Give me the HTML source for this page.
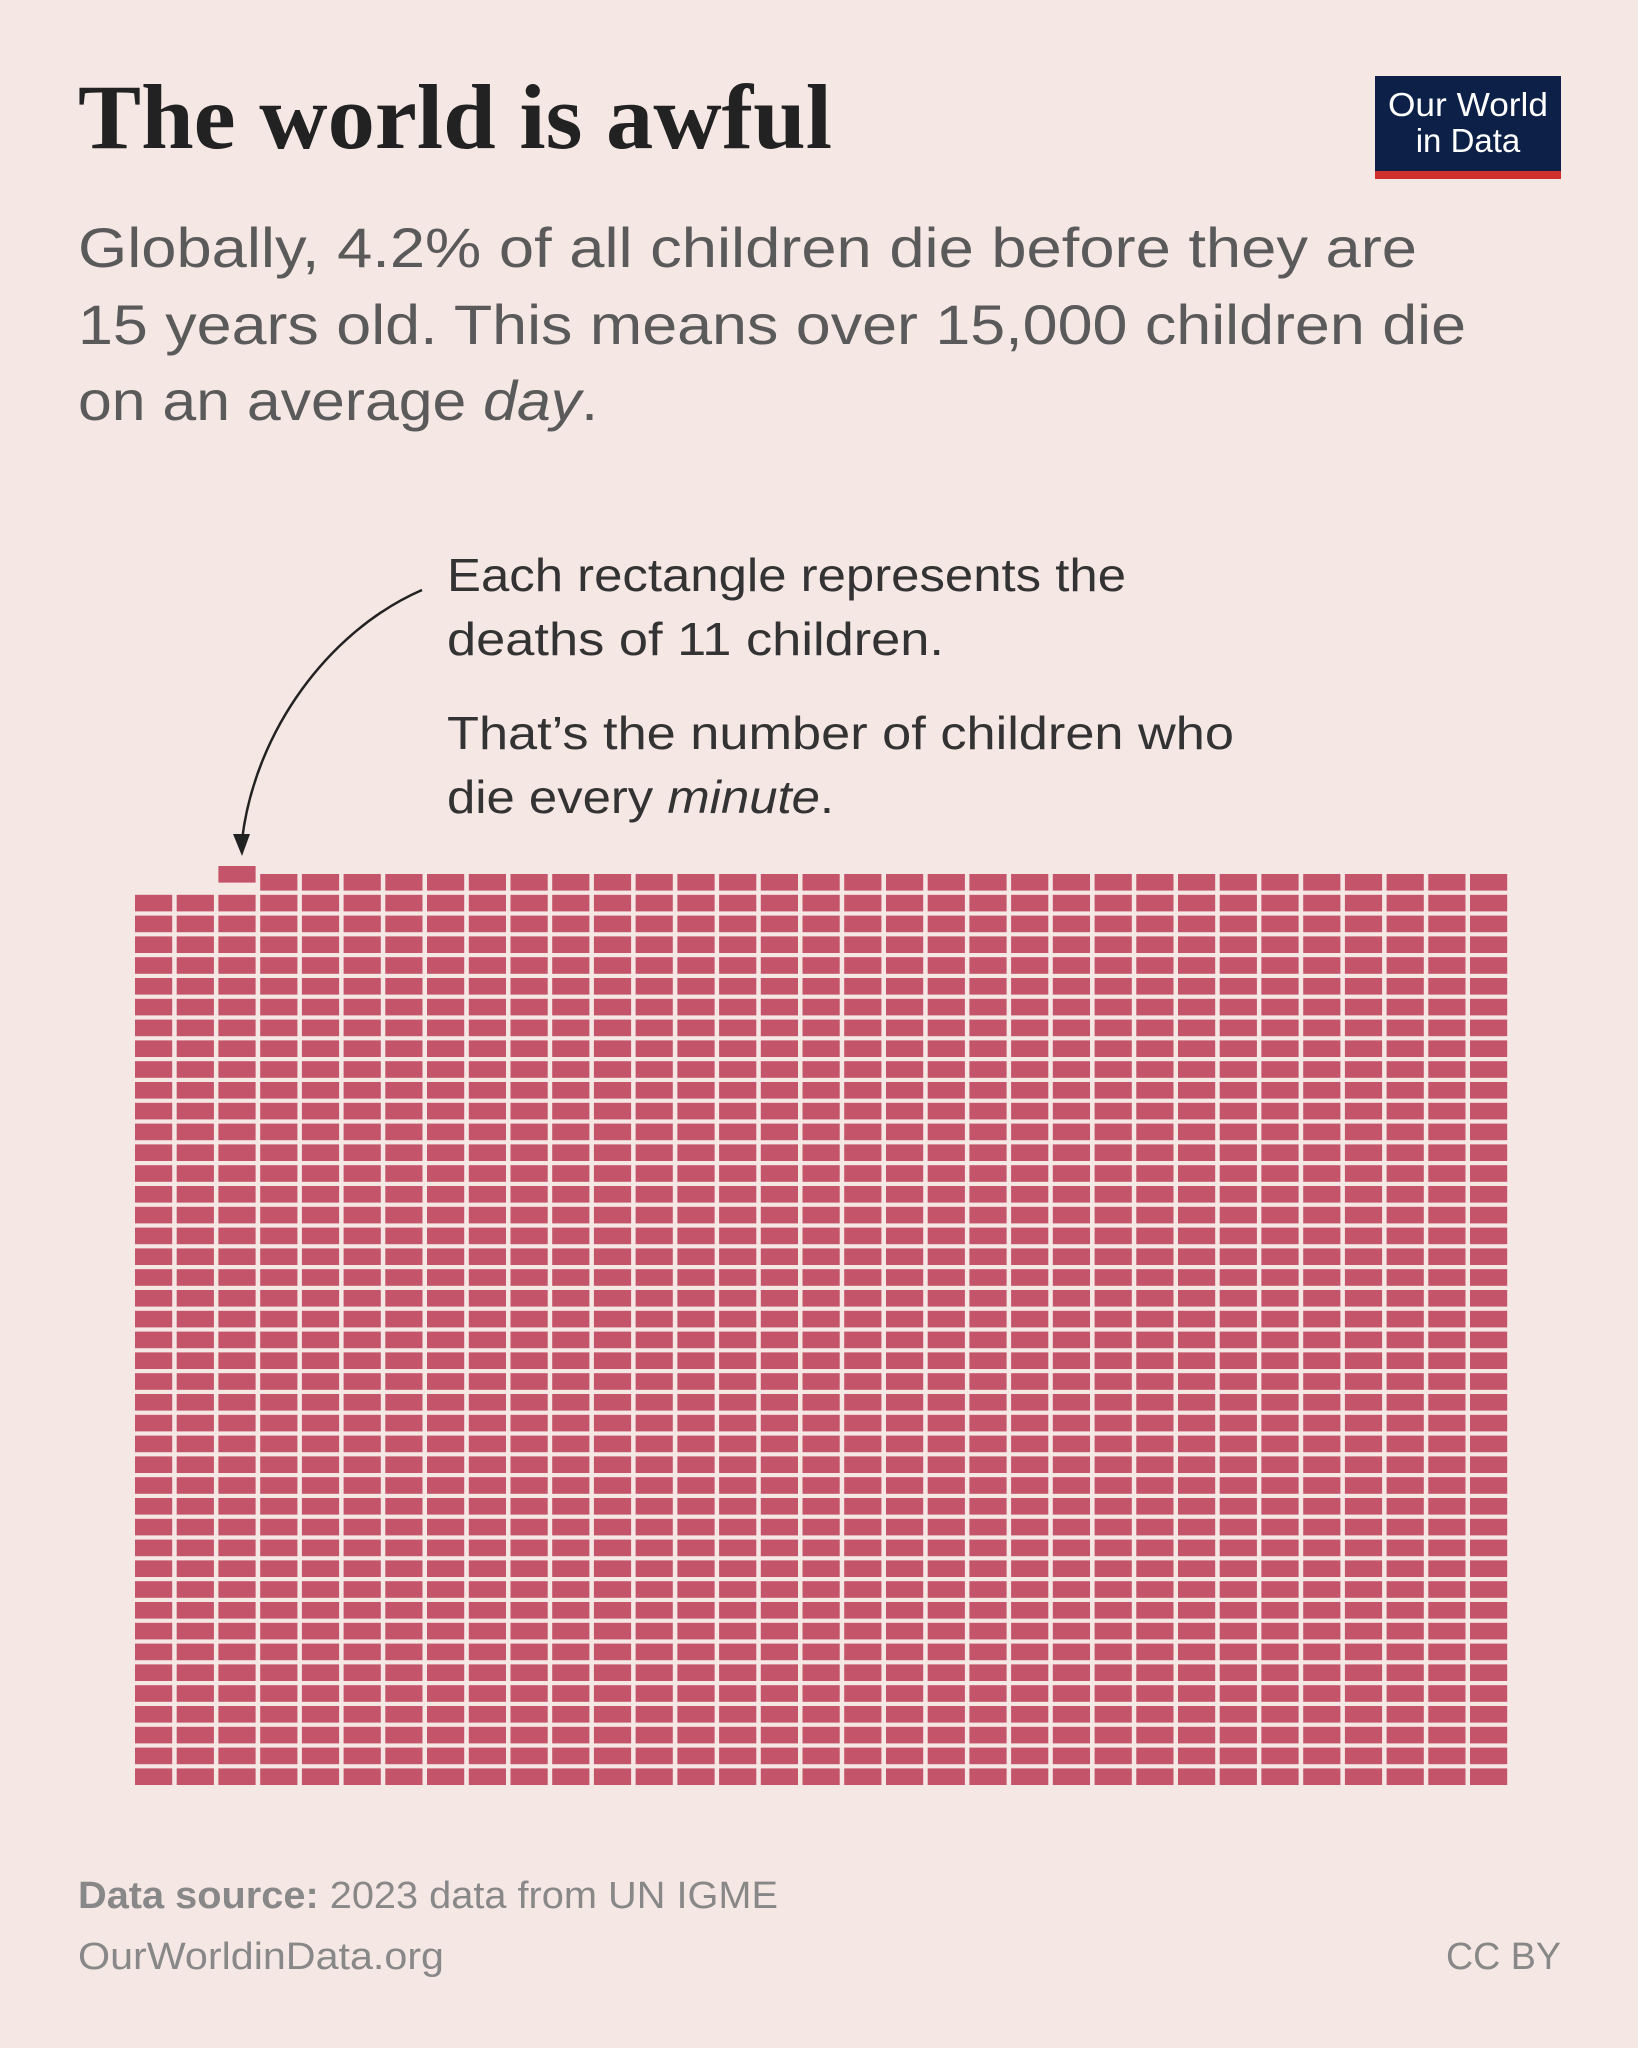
<!DOCTYPE html>
<html><head><meta charset="utf-8"><style>html,body{margin:0;padding:0;background:#f5e7e4}svg{display:block}</style></head>
<body>
<svg width="1638" height="2048" viewBox="0 0 1638 2048" xmlns="http://www.w3.org/2000/svg">
<rect width="1638" height="2048" fill="#f5e7e4"/>
<text x="78" y="148" font-family="Liberation Serif, serif" font-weight="bold" font-size="92" fill="#222" textLength="754" lengthAdjust="spacingAndGlyphs">The world is awful</text>
<rect x="1375" y="76" width="186" height="96" fill="#0d2148"/>
<rect x="1375" y="171" width="186" height="8" fill="#d0302c"/>
<text x="1468" y="116" text-anchor="middle" font-family="Liberation Sans, sans-serif" font-size="33" fill="#fff" textLength="160" lengthAdjust="spacingAndGlyphs">Our World</text>
<text x="1468" y="152" text-anchor="middle" font-family="Liberation Sans, sans-serif" font-size="33" fill="#fff">in Data</text>
<g font-family="Liberation Sans, sans-serif" font-size="56" fill="#5a5a5a">
<text x="78" y="267" textLength="1339" lengthAdjust="spacingAndGlyphs">Globally, 4.2% of all children die before they are</text>
<text x="78" y="344" textLength="1388" lengthAdjust="spacingAndGlyphs">15 years old. This means over 15,000 children die</text>
<text x="78" y="420" textLength="520" lengthAdjust="spacingAndGlyphs">on an average <tspan font-style="italic">day</tspan>.</text>
</g>
<g font-family="Liberation Sans, sans-serif" font-size="46" fill="#333">
<text x="447" y="591" textLength="679" lengthAdjust="spacingAndGlyphs">Each rectangle represents the</text>
<text x="447" y="655" textLength="497" lengthAdjust="spacingAndGlyphs">deaths of 11 children.</text>
<text x="447" y="749" textLength="787" lengthAdjust="spacingAndGlyphs">That’s the number of children who</text>
<text x="447" y="813" textLength="387" lengthAdjust="spacingAndGlyphs">die every <tspan font-style="italic">minute</tspan>.</text>
</g>
<path d="M422 590 C330 630 255 730 242 840" fill="none" stroke="#222" stroke-width="2.5"/>
<path d="M233 834 L242 856 L250 834 Z" fill="#222"/>
<g fill="#c4546a" id="grid"></g>
<g font-family="Liberation Sans, sans-serif" font-size="38" fill="#888">
<text x="78" y="1908" textLength="700" lengthAdjust="spacingAndGlyphs"><tspan font-weight="bold">Data source:</tspan> 2023 data from UN IGME</text>
<text x="78" y="1969" textLength="366" lengthAdjust="spacingAndGlyphs">OurWorldinData.org</text>
<text x="1561" y="1969" text-anchor="end" textLength="115" lengthAdjust="spacingAndGlyphs">CC BY</text>
</g>
</svg>
<script>
var g=document.getElementById('grid'),s='';
for(var c=0;c<33;c++){var x=135+c*41.72;for(var r=0;r<44;r++){if(c<3&&r==0)continue;var y=874+r*20.8;s+='<rect x="'+x.toFixed(1)+'" y="'+y.toFixed(1)+'" width="37.2" height="16.6"/>';}}
s+='<rect x="218.4" y="866" width="37.2" height="16.6"/>';
g.innerHTML=s;
</script>
</body></html>
